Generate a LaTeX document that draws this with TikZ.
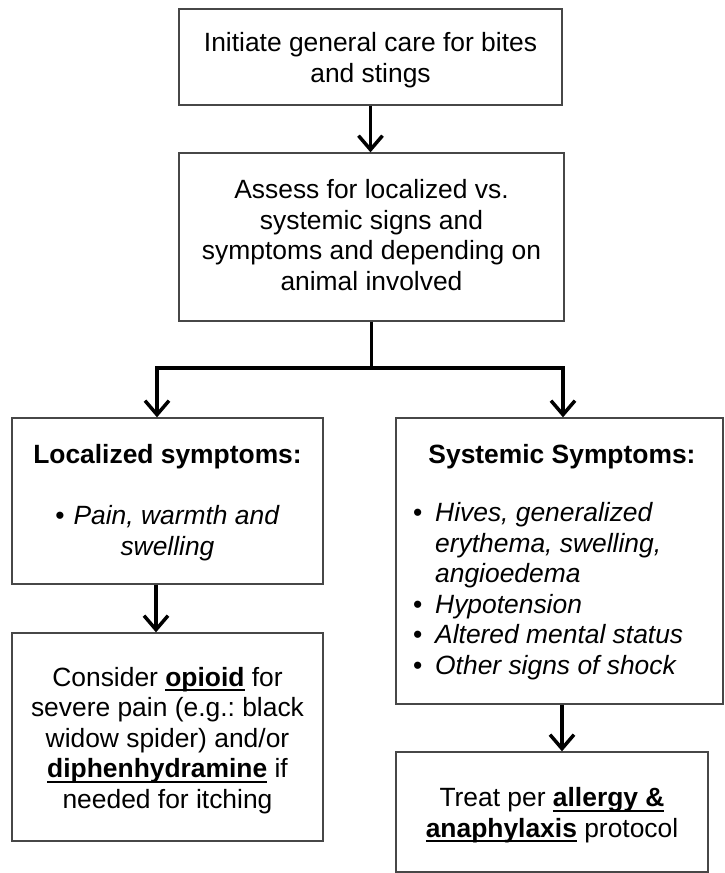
\documentclass[tikz,border=0pt]{standalone}
\usepackage{fontspec}
\setmainfont{Liberation Sans}
\usetikzlibrary{arrows.meta}
\frenchspacing

% bold word with a heavy underline through the descenders
\newcommand\ulbf[1]{\setbox0=\hbox{\bfseries #1}\rlap{\rule[-5.2pt]{\wd0}{2.2pt}}\box0\relax}

\tikzset{
  box/.style={draw=black!72, line width=1.3pt, inner sep=0pt},
  txt/.style={font=\fontsize{26.4pt}{30.5pt}\selectfont, inner sep=0pt, align=center, anchor=base},
  link/.style={line width=3.5pt, line join=miter},
  arr/.style={link, -{Straight Barb[length=14pt,width=24pt]}},
}

\begin{document}
\begin{tikzpicture}[x=1pt,y=-1pt]
  \useasboundingbox (0,0) rectangle (724,873);

  % boxes
  \node[box, minimum width=383pt, minimum height=96pt]  (b1) at (370.5,57) {};
  \node[box, minimum width=385pt, minimum height=168pt] (b2) at (371.5,237) {};
  \node[box, minimum width=311pt, minimum height=166pt] (b3) at (167.5,501) {};
  \node[box, minimum width=327pt, minimum height=286pt] (b4) at (559.5,561) {};
  \node[box, minimum width=311pt, minimum height=208pt] (b5) at (167.5,737) {};
  \node[box, minimum width=312pt, minimum height=120pt] (b6) at (552,812) {};

  % texts (multi-line nodes sit on the baseline of their last line)
  \node[txt] (t1) at (370.5,82) {Initiate general care for bites\\and stings};
  \node[txt] (t2) at (371.5,290) {Assess for localized vs.\\systemic signs and\\symptoms and depending on\\animal involved};
  \node[txt] (t3) at (167.5,555) {\textbf{Localized symptoms:}\\[30.5pt]\textbullet\hspace{9pt}\textit{Pain, warmth and}\\\textit{swelling}};
  \node[txt] (t4) at (562,463) {\textbf{Systemic Symptoms:}};
  \node[txt, align=left, anchor=base west] (t4l) at (413,674)
    {\makebox[22pt][l]{\textbullet}\textit{Hives, generalized}\\
     \hspace*{22pt}\textit{erythema, swelling,}\\
     \hspace*{22pt}\textit{angioedema}\\
     \makebox[22pt][l]{\textbullet}\textit{Hypotension}\\
     \makebox[22pt][l]{\textbullet}\textit{Altered mental status}\\
     \makebox[22pt][l]{\textbullet}\textit{Other signs of shock}};
  \node[txt] (t5) at (167.5,808) {Consider \ulbf{opioid} for\\severe pain (e.g.: black\\widow spider) and/or\\\ulbf{diphenhydramine} if\\needed for itching};
  \node[txt] (t6) at (552,837) {Treat per \ulbf{allergy \&}\\\ulbf{anaphylaxis} protocol};

  % connectors
  \coordinate (j)  at (371.5,368);
  \coordinate (jl) at (157,368);
  \coordinate (jr) at (563,368);
  \draw[arr] (b1.south) -- (b1.south |- b2.north);
  \draw[link] (b2.south) -- (j);
  \draw[arr] (j) -- (jl) -- (jl |- b3.north);
  \draw[arr] (j) -- (jr) -- (jr |- b4.north);
  \draw[arr] (156,0 |- b3.south) -- (156,0 |- b5.north);
  \draw[arr] (562,0 |- b4.south) -- (562,0 |- b6.north);
\end{tikzpicture}
\end{document}
